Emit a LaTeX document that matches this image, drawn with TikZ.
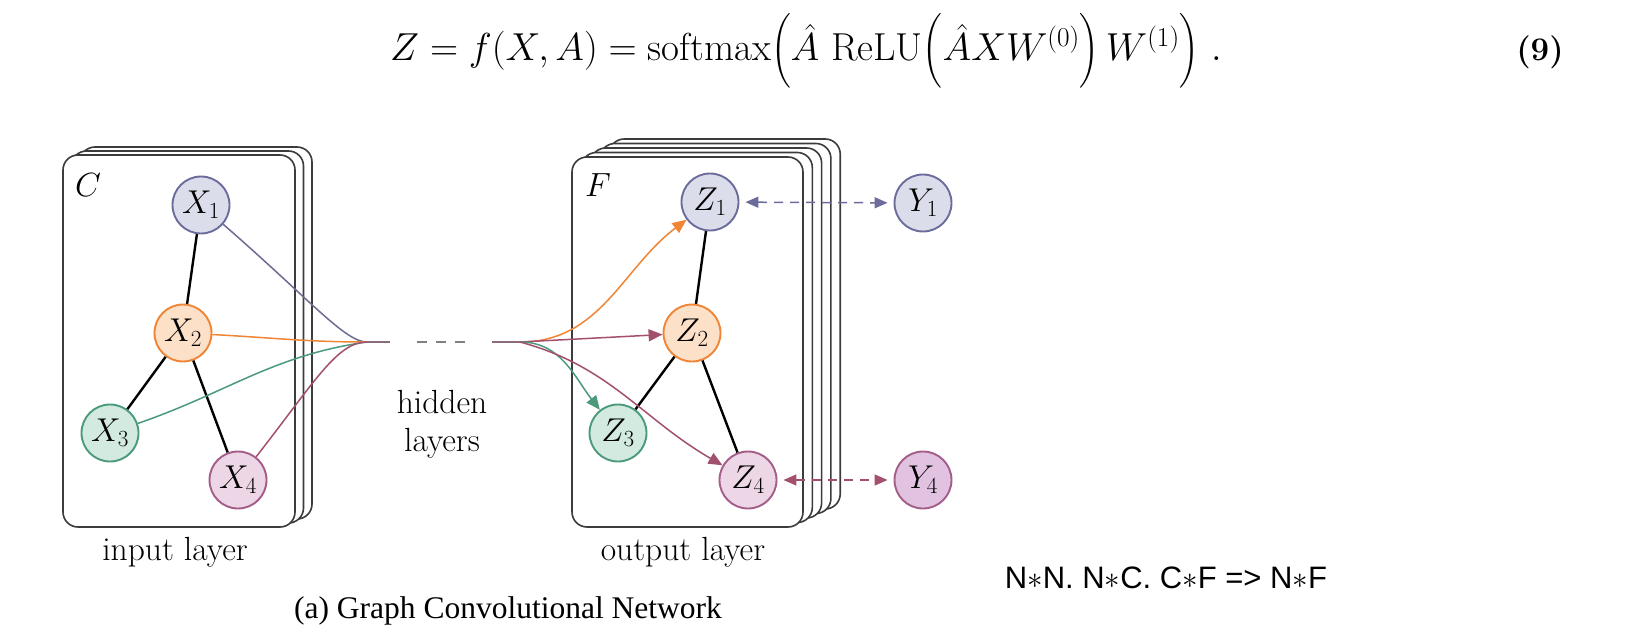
\RequirePackage{fix-cm}
\documentclass[tikz,border=0pt]{standalone}
\usepackage{amsmath}
\usepackage{fontspec}
\newfontfamily\timesfont{Liberation Serif}
\newfontfamily\arialfont{Liberation Sans}
\usetikzlibrary{arrows.meta}
\pgfdeclarelayer{bg}
\pgfsetlayers{bg,main}
\definecolor{bluF}{HTML}{DCDDEA}
\definecolor{bluD}{HTML}{6B6C9C}
\definecolor{bluL}{HTML}{6C6C93}
\definecolor{oraF}{HTML}{FDE0C8}
\definecolor{oraD}{HTML}{F08535}
\definecolor{greF}{HTML}{D2EADF}
\definecolor{greD}{HTML}{4A9A7B}
\definecolor{pinF}{HTML}{EDD6E6}
\definecolor{pinD}{HTML}{A45C88}
\definecolor{pinY}{HTML}{E1C3E1}
\definecolor{mauL}{HTML}{A3506E}
\definecolor{mixL}{HTML}{8C6A7E}
\definecolor{cardc}{HTML}{3C3C3C}
\tikzset{
  gnode/.style={circle, minimum size=57pt, inner sep=0pt, line width=1.9pt, font=\fontsize{33}{38}\selectfont},
  nb/.style={gnode, draw=bluD, fill=bluF},
  no/.style={gnode, draw=oraD, fill=oraF},
  ng/.style={gnode, draw=greD, fill=greF},
  np/.style={gnode, draw=pinD, fill=pinF},
  npy/.style={gnode, draw=pinD, fill=pinY},
  card/.style={draw=cardc, line width=1.6pt, fill=white, rounded corners=15pt},
  gedge/.style={line width=2.4pt, black},
  conn/.style={line width=1.5pt},
  tipped/.style={-{Triangle[length=14pt,width=12pt]}},
  dbl/.style={{Triangle[length=13pt,width=11pt]}-{Triangle[length=13pt,width=11pt]}, dash pattern=on 9pt off 7pt, line width=1.5pt, shorten <=6pt, shorten >=6pt},
  lbl/.style={font=\fontsize{33.5}{38}\selectfont, inner sep=0pt},
}
\begin{document}
\begin{tikzpicture}[x=1pt,y=1pt]
\useasboundingbox (0,0) rectangle (1643,633);
% equation
\node[anchor=base, inner sep=0pt, font=\fontsize{39}{44}\selectfont] (eq) at (806,572)
  {$Z = f(X,A) = \mathrm{softmax}\Bigl(\hat{A}\ \mathrm{ReLU}\Bigl(\hat{A}XW^{(0)}\Bigr)\,W^{(1)}\Bigr)\ .$};
\node[anchor=base, inner sep=0pt, font=\fontsize{33}{40}\selectfont\bfseries] (eqn) at (1540,572) {(9)};
% cards
\begin{pgfonlayer}{bg}
\foreach \i in {2,1,0} {
  \draw[card] ({63+8.5*\i},{106+4*\i}) rectangle ({295+8.5*\i},{478+4*\i});
}
\foreach \i in {4,3,2,1,0} {
  \draw[card] ({572+9.3*\i},{106+4.5*\i}) rectangle ({803+9.3*\i},{476+4.5*\i});
}
\end{pgfonlayer}
% labels in cards
\node[lbl] (Clab) at (88,448) {$C$};
\node[lbl] (Flab) at (598,448) {$F$};
% input nodes
\node[nb] (X1) at (201,428) {$X_1$};
\node[no] (X2) at (183,300) {$X_2$};
\node[ng] (X3) at (110,200) {$X_3$};
\node[np] (X4) at (238,153) {$X_4$};
% output nodes
\node[nb] (Z1) at (710,431) {$Z_1$};
\node[no] (Z2) at (692,300) {$Z_2$};
\node[ng] (Z3) at (618,200) {$Z_3$};
\node[np] (Z4) at (748,153) {$Z_4$};
\node[nb] (Y1) at (923,430) {$Y_1$};
\node[npy] (Y4) at (923,153) {$Y_4$};
% graph edges
\draw[gedge] (X1) -- (X2);
\draw[gedge] (X2) -- (X3);
\draw[gedge] (X2) -- (X4);
\draw[gedge] (Z1) -- (Z2);
\draw[gedge] (Z2) -- (Z3);
\draw[gedge] (Z2) -- (Z4);
% hidden layer connectors
\coordinate (cl) at (367,291);
\coordinate (hl) at (390,291);
\coordinate (d1) at (417,291);
\coordinate (d2) at (465,291);
\coordinate (hr) at (492,291);
\coordinate (cr) at (520,291);
\draw[conn, bluL] (X1) .. controls +(-41:145) and +(-22,0) .. (cl);
\draw[conn, oraD] (X2) to[out=-3,in=180] (cl);
\draw[conn, greD] (X3) to[out=19,in=188] (cl);
\draw[conn, mauL] (X4) .. controls +(52:125) and +(-30,0) .. (cl);
\draw[conn, mixL] (cl) -- (hl);
\draw[conn, gray, dash pattern=on 10pt off 9pt] (d1) -- (d2);
\draw[conn, mixL] (hr) -- (cr);
\draw[conn, tipped, oraD] (cr) to[out=0,in=217] (Z1);
\draw[conn, tipped, mauL] (cr) -- (Z2);
\draw[conn, tipped, greD] (cr) to[out=0,in=128] (Z3);
\draw[conn, tipped, mauL] (cr) to[out=-15,in=150] (Z4);
\draw[dbl, bluD] (Z1) -- (Y1);
\draw[dbl, mauL] (Z4) -- (Y4);
% texts
\node[lbl, align=center] (hid) at (442,209) {hidden\\[0pt]layers};
\node[lbl] (inl) at (175,81) {input layer};
\node[lbl] (outl) at (683,81) {output layer};
\node[inner sep=0pt, font=\timesfont\fontsize{31.5}{36}\selectfont] (cap) at (508,22) {(a) Graph Convolutional Network};
\node[inner sep=0pt, font=\arialfont\fontsize{31}{36}\selectfont] (nn) at (1166,55) {N$\ast$N. N$\ast$C. C$\ast$F => N$\ast$F};
\end{tikzpicture}
\end{document}
